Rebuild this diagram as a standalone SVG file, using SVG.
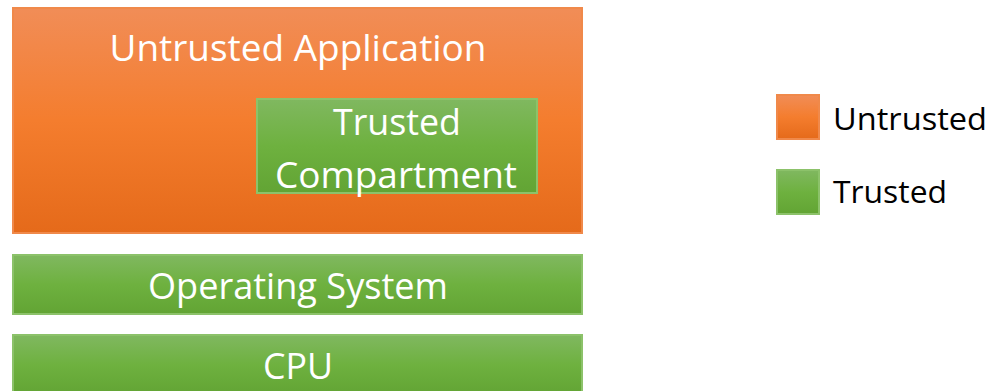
<svg xmlns="http://www.w3.org/2000/svg" width="993" height="391" viewBox="0 0 993 391">
<defs>
<linearGradient id="gOr" x1="0" y1="0" x2="0" y2="1">
<stop offset="0" stop-color="#F18D57"/>
<stop offset="0.5" stop-color="#F47D2E"/>
<stop offset="1" stop-color="#E56A1A"/>
</linearGradient>
<linearGradient id="gGr" x1="0" y1="0" x2="0" y2="1">
<stop offset="0" stop-color="#80B860"/>
<stop offset="0.5" stop-color="#6EB13F"/>
<stop offset="1" stop-color="#62A434"/>
</linearGradient>
</defs>
<style>
.or{fill:url(#gOr);stroke:#F0894A;stroke-width:2}
.gr{fill:url(#gGr);stroke:#8CC26A;stroke-width:2}
.w{fill:#FFFFFF;font-family:"Open Sans","Liberation Sans",sans-serif;text-anchor:middle}
.k{fill:#000000;font-family:"Open Sans","Liberation Sans",sans-serif}
</style>
<rect width="993" height="391" fill="#FFFFFF"/>
<g id="app">
<rect class="or" x="13" y="8" width="569" height="225"/>
<text class="w" x="298" y="61" font-size="37" textLength="377" lengthAdjust="spacingAndGlyphs">Untrusted Application</text>
</g>
<g id="compartment">
<rect class="gr" x="257" y="99" width="280" height="94"/>
<text class="w" x="397" y="135" font-size="37" textLength="128" lengthAdjust="spacingAndGlyphs">Trusted</text>
<text class="w" x="396" y="188" font-size="37" textLength="242" lengthAdjust="spacingAndGlyphs">Compartment</text>
</g>
<g id="os">
<rect class="gr" x="13" y="255" width="569" height="59"/>
<text class="w" x="298" y="299" font-size="37" textLength="300" lengthAdjust="spacingAndGlyphs">Operating System</text>
</g>
<g id="cpu">
<rect class="gr" x="13" y="335" width="569" height="60"/>
<text class="w" x="298" y="379" font-size="37" textLength="70" lengthAdjust="spacingAndGlyphs">CPU</text>
</g>
<g id="legend-untrusted">
<rect class="or" x="777" y="95" width="42" height="44"/>
<text class="k" x="833" y="130" font-size="31" textLength="154" lengthAdjust="spacingAndGlyphs">Untrusted</text>
</g>
<g id="legend-trusted">
<rect class="gr" x="777" y="170" width="42" height="44"/>
<text class="k" x="833" y="203" font-size="31" textLength="114" lengthAdjust="spacingAndGlyphs">Trusted</text>
</g>
<g id="connectors"/>
</svg>
